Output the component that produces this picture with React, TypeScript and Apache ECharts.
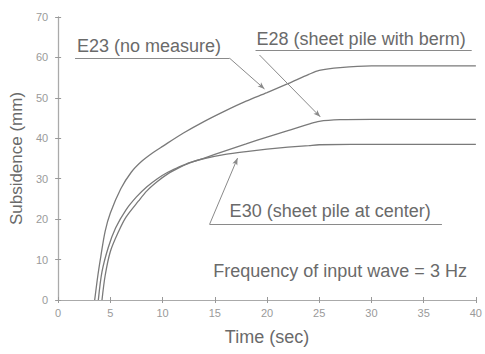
import React, { useEffect, useRef } from "react";
import * as echarts from "echarts";

const e23X = [3.5, 3.8, 4.1, 4.5, 5, 6, 7, 8, 9, 10, 12, 14, 16, 18, 20, 22, 24, 25, 27, 30, 40];
const e23Y = [0, 6, 11, 17, 21.5, 27.5, 31.6, 34.3, 36.3, 38, 41.3, 44.2, 46.8, 49.2, 51.3, 53.5, 55.8, 56.8, 57.5, 57.9, 57.9];

const e28X = [4.2, 4.5, 5, 5.8, 6.5, 7.7, 8.5, 9.5, 10.5, 11.5, 12.6, 14, 16, 18, 20, 22, 24, 25, 27, 30, 40];
const e28Y = [0, 6, 12, 17, 20.5, 24.5, 27, 29.3, 31.2, 32.6, 33.9, 35.1, 36.9, 38.6, 40.3, 41.9, 43.5, 44.2, 44.6, 44.7, 44.7];

const e30X = [3.85, 4.2, 4.8, 5.5, 6.5, 7.5, 8.5, 9.5, 10.5, 11.5, 12.6, 14, 16, 18, 20, 22, 24, 25, 28, 40];
const e30Y = [0, 7, 13, 17.8, 22.3, 25.5, 28, 30, 31.6, 32.8, 34, 35, 36, 36.7, 37.3, 37.8, 38.2, 38.4, 38.5, 38.5];

const xTicks = [0, 5, 10, 15, 20, 25, 30, 35, 40];
const yTicks = [0, 10, 20, 30, 40, 50, 60, 70];

const seriesNames = ["E23", "E28", "E30"];

// annotation labels (data coordinates)
const labels = [
  { text: "E23 (no measure)", x: 1.81, y: 62.9, ul: [1.62, 16.42, 59.8], lead: [16.42, 59.8, 19.76, 52.2] },
  { text: "E28 (sheet pile with berm)", x: 19.0, y: 64.6, ul: [18.9, 39.6, 61.66], lead: [19.28, 60.6, 25.1, 45.3] },
  { text: "E30 (sheet pile at center)", x: 16.42, y: 22.0, ul: [14.5, 36.75, 18.72], lead: [14.5, 18.72, 17.18, 35.1] },
];
const freqNote = { text: "Frequency of input wave = 3 Hz", x: 39.14, y: 7.1 };

const FONT = "Liberation Sans";
const LINE = "#7a7a7a";
const TXT = "#6a6a6a";
const TICK_TXT = "#9a9a9a";

export default function App() {
  const ref = useRef<HTMLDivElement>(null);
  useEffect(() => {
    if (!ref.current) return;
    const chart = echarts.init(ref.current, null, { renderer: "svg" });
    const mk = (xs: number[], ys: number[]) => xs.map((x, i) => [x, ys[i]]);
    const lineSeries = [mk(e23X, e23Y), mk(e28X, e28Y), mk(e30X, e30Y)].map((d, i) => ({
      name: seriesNames[i],
      type: "line",
      data: d,
      showSymbol: false,
      smooth: 0.3,
      lineStyle: { color: LINE, width: 1.3 },
      silent: true,
    }));
    const segData: any[] = [];
    labels.forEach((l) => {
      segData.push([
        { coord: [l.ul[0], l.ul[2]], symbol: "none" },
        { coord: [l.ul[1], l.ul[2]], symbol: "none" },
      ]);
      segData.push([
        { coord: [l.lead[0], l.lead[1]], symbol: "none" },
        { coord: [l.lead[2], l.lead[3]], symbol: "arrow", symbolSize: [4, 7] },
      ]);
    });
    const annSeries = {
      type: "line",
      data: [],
      silent: true,
      markLine: {
        silent: true,
        symbol: ["none", "none"],
        label: { show: false },
        lineStyle: { color: "#8a8a8a", width: 1, type: "solid" },
        emphasis: { disabled: true },
        data: segData,
      },
    };
    const axisCommon = {
      type: "value",
      axisLine: { show: true, lineStyle: { color: "#888", width: 1.2 } },
      axisTick: { show: true, inside: true, length: 3, lineStyle: { color: "#999" } },
      splitLine: { show: false },
    };
    chart.setOption({
      animation: false,
      backgroundColor: "#ffffff",
      grid: { left: 58, right: 8, top: 17, bottom: 54 },
      xAxis: [
        {
          ...axisCommon,
          min: xTicks[0],
          max: xTicks[xTicks.length - 1],
          interval: 5,
          name: "Time (sec)",
          nameLocation: "middle",
          nameGap: 28,
          nameTextStyle: { color: TXT, fontFamily: FONT, fontSize: 18 },
          axisLabel: { color: TICK_TXT, fontFamily: FONT, fontSize: 11, margin: 7 },
        },
        {
          ...axisCommon,
          position: "top",
          min: 0,
          max: 40,
          interval: 5,
          axisLine: { show: true, lineStyle: { color: "#aaa", width: 1 } },
          axisLabel: { show: false },
        },
      ],
      yAxis: [
        {
          ...axisCommon,
          min: yTicks[0],
          max: yTicks[yTicks.length - 1],
          interval: 10,
          name: "Subsidence (mm)",
          nameLocation: "middle",
          nameGap: 31,
          nameTextStyle: { color: TXT, fontFamily: FONT, fontSize: 17 },
          axisLabel: { color: TICK_TXT, fontFamily: FONT, fontSize: 11, margin: 10 },
        },
        {
          ...axisCommon,
          position: "right",
          min: 0,
          max: 70,
          interval: 10,
          axisLine: { show: true, lineStyle: { color: "#aaa", width: 1 } },
          axisLabel: { show: false },
        },
      ],
      series: [...lineSeries, annSeries],
    });
    const graphics: any[] = [];
    labels.forEach((l) => {
      const p = chart.convertToPixel({ xAxisIndex: 0, yAxisIndex: 0 }, [l.x, l.y]) as number[];
      graphics.push({
        type: "text",
        x: p[0],
        y: p[1],
        silent: true,
        style: { text: l.text, fill: TXT, font: `18px "${FONT}"`, textVerticalAlign: "middle", textAlign: "left" },
      });
    });
    const fp = chart.convertToPixel({ xAxisIndex: 0, yAxisIndex: 0 }, [freqNote.x, freqNote.y]) as number[];
    graphics.push({
      type: "text",
      x: fp[0],
      y: fp[1],
      silent: true,
      style: { text: freqNote.text, fill: TXT, font: `18px "${FONT}"`, textVerticalAlign: "middle", textAlign: "right" },
    });
    chart.setOption({ graphic: graphics });
    return () => chart.dispose();
  }, []);
  return <div ref={ref} style={{ width: 485, height: 354, position: "absolute", left: 0, top: 0 }} />;
}
